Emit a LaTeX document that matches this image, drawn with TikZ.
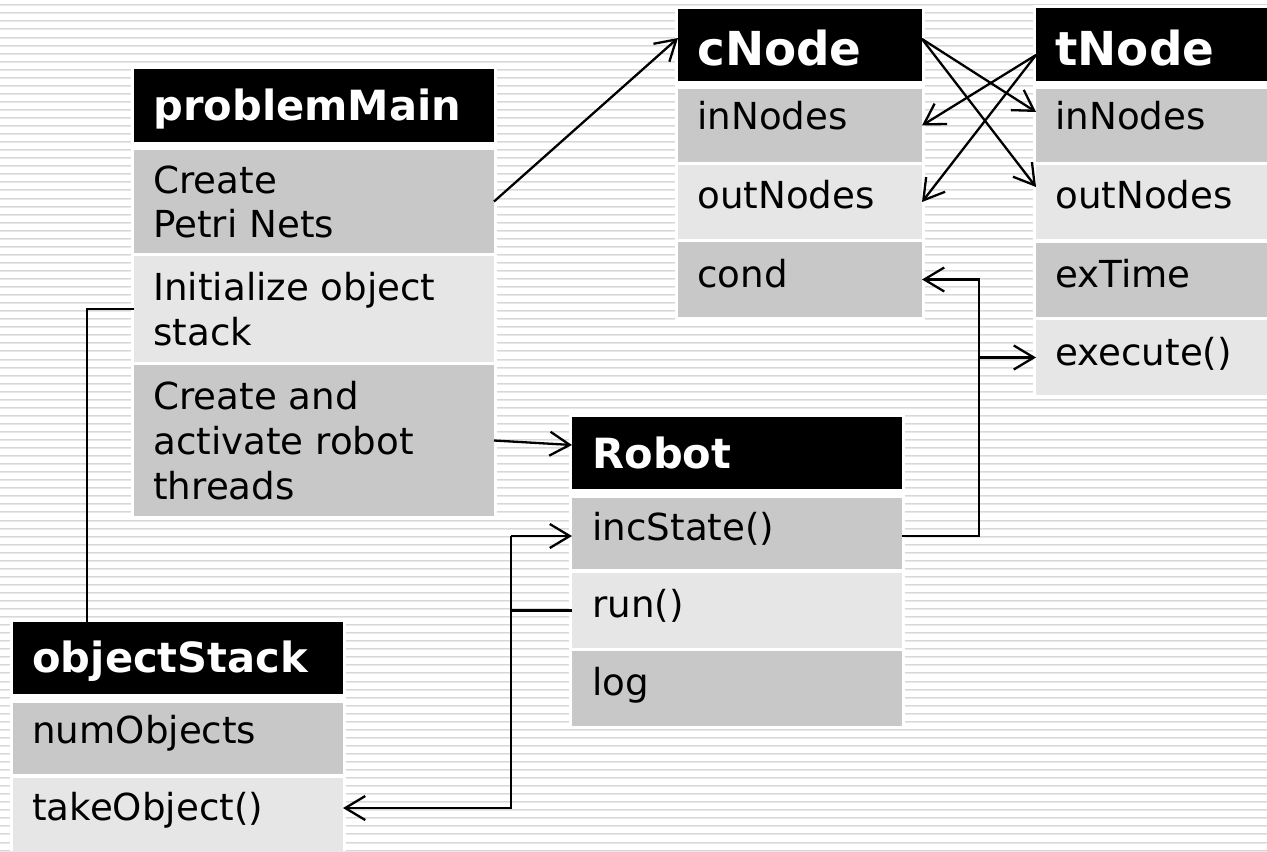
\documentclass[tikz,border=0pt]{standalone}
\usepackage{fontspec}
\setmainfont{DejaVu Sans}
\usetikzlibrary{arrows.meta,fit,calc}
\definecolor{cdark}{HTML}{C8C8C8}
\definecolor{clight}{HTML}{E6E6E6}
\definecolor{stripeA}{HTML}{D8D8D8}
\definecolor{stripeB}{HTML}{E8E8E8}
\begin{document}
\begin{tikzpicture}[x=0.5pt,y=-0.5pt,
  box/.style={inner sep=0pt,outer sep=0pt,draw=none},
  hdr/.style={box,fill=black},
  dk/.style={box,fill=cdark},
  lt/.style={box,fill=clight},
  back/.style={box,fill=white},
  txt/.style={anchor=base west,inner sep=0pt,font=\fontsize{18.6pt}{22pt}\selectfont},
  htxt/.style={anchor=base west,inner sep=0pt,text=white,font=\fontsize{20.8pt}{25pt}\selectfont\bfseries},
  Htxt/.style={anchor=base west,inner sep=0pt,text=white,font=\fontsize{23.4pt}{28pt}\selectfont\bfseries},
  conn/.style={line width=1.15pt,black},
  arr/.style={conn,-{Straight Barb[length=10pt,width=12pt]}}]
\useasboundingbox (0,0) rectangle (1267,851);
\fill[white] (0,0) rectangle (1267,851);
\foreach \i in {0,...,105} {
  \fill[stripeA] (0,{4.3+8.05*\i}) rectangle (1267,{5.3+8.05*\i});
  \fill[stripeB] (0,{5.3+8.05*\i}) rectangle (1267,{6.3+8.05*\i});
}
% white backings
\node[back,fit={(131,66)(497,519)}] (pmB) {};
\node[back,fit={(675,6)(925,320)}] (cNB) {};
\node[back,fit={(1033,5)(1267,398)}] (tNB) {};
\node[back,fit={(569,414)(905,729)}] (RbB) {};
\node[back,fit={(10,619)(346,851)}] (oSB) {};
% problemMain
\node[hdr,fit={(134,69)(494,142)}] (pm0) {};
\node[dk,fit={(134,150)(494,253)}] (pm1) {};
\node[lt,fit={(134,256)(494,362)}] (pm2) {};
\node[dk,fit={(134,365)(494,516)}] (pm3) {};
\node[htxt] (pm0t) at (153,120) {problemMain};
\node[txt] (pm1a) at (153,193) {Create};
\node[txt] (pm1b) at (153,237) {Petri Nets};
\node[txt] (pm2a) at (153,300) {Initialize object};
\node[txt] (pm2b) at (153,345) {stack};
\node[txt] (pm3a) at (153,409) {Create and};
\node[txt] (pm3b) at (153,454) {activate robot};
\node[txt] (pm3c) at (153,499) {threads};
% cNode
\node[hdr,fit={(678,9)(922,81)}] (cN0) {};
\node[dk,fit={(678,89)(922,162)}] (cN1) {};
\node[lt,fit={(678,165)(922,239)}] (cN2) {};
\node[dk,fit={(678,242)(922,317)}] (cN3) {};
\node[Htxt] (cN0t) at (697,65) {cNode};
\node[txt] (cN1t) at (697,129) {inNodes};
\node[txt] (cN2t) at (697,208) {outNodes};
\node[txt] (cN3t) at (697,287) {cond};
% tNode
\node[hdr,fit={(1036,8)(1267,81)}] (tN0) {};
\node[dk,fit={(1036,89)(1267,162)}] (tN1) {};
\node[lt,fit={(1036,165)(1267,239)}] (tN2) {};
\node[dk,fit={(1036,243)(1267,317)}] (tN3) {};
\node[lt,fit={(1036,320)(1267,395)}] (tN4) {};
\node[Htxt] (tN0t) at (1055,65) {tNode};
\node[txt] (tN1t) at (1055,129) {inNodes};
\node[txt] (tN2t) at (1055,208) {outNodes};
\node[txt] (tN3t) at (1055,287) {exTime};
\node[txt] (tN4t) at (1055,365) {execute()};
% Robot
\node[hdr,fit={(572,417)(902,489)}] (Rb0) {};
\node[dk,fit={(572,498)(902,569)}] (Rb1) {};
\node[lt,fit={(572,573)(902,648)}] (Rb2) {};
\node[dk,fit={(572,651)(902,726)}] (Rb3) {};
\node[htxt] (Rb0t) at (592,468) {Robot};
\node[txt] (Rb1t) at (592,540) {incState()};
\node[txt] (Rb2t) at (592,617) {run()};
\node[txt] (Rb3t) at (592,695) {log};
% objectStack
\node[hdr,fit={(13,622)(343,694)}] (oS0) {};
\node[dk,fit={(13,703)(343,774)}] (oS1) {};
\node[lt,fit={(13,778)(343,851)}] (oS2) {};
\node[htxt] (oS0t) at (32,672) {objectStack};
\node[txt] (oS1t) at (32,743) {numObjects};
\node[txt] (oS2t) at (32,820) {takeObject()};
% connectors
\draw[arr] (pm1.east) -- ([yshift=3.5pt]cN0.west);
\draw[arr] (pm3.east) -- ([yshift=4pt]Rb0.west);
\draw[conn] (pm2.west) -| ($(oS0.north west)+(74,0)$);
\draw[arr] ($(Rb1.west)+(-61,2.5)$) coordinate (busL) -- ([yshift=-1.25pt]Rb1.west);
\draw[conn] (Rb2.west) -- (Rb2.west -| busL);
\draw[arr] (busL) |- ([yshift=3.25pt]oS2.east);
\draw[arr] ([yshift=-1.25pt]Rb1.east) -| ($(cN3.east)+(57,0)$) coordinate (busR) -- (cN3.east);
\draw[arr] (busR |- tN4.west) -- (tN4.west);
\draw[arr] ([yshift=3pt]cN0.east) -- ([yshift=6.75pt]tN1.west);
\draw[arr] ([yshift=3pt]cN0.east) -- ([yshift=7.5pt]tN2.west);
\draw[arr] ([yshift=-5.25pt]tN0.west) -- (cN1.east);
\draw[arr] ([yshift=-5.25pt]tN0.west) -- (cN2.east);
\end{tikzpicture}
\end{document}
